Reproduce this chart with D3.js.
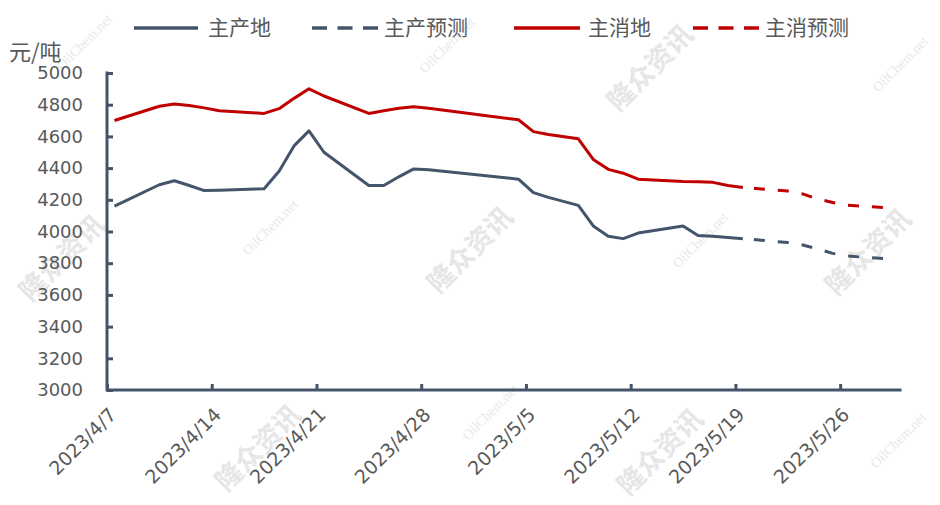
<!DOCTYPE html>
<html><head><meta charset="utf-8">
<script src="https://cdn.jsdelivr.net/npm/d3@7"></script>
<style>
body{margin:0;background:#fff;}
svg{display:block;font-family:"DejaVu Sans",sans-serif;}
</style></head>
<body><svg id="c" width="940" height="505"></svg>
<script>
// ---- data ----
const actualDates = ["2023-04-07","2023-04-10","2023-04-11","2023-04-12","2023-04-13","2023-04-14","2023-04-17","2023-04-18","2023-04-19","2023-04-20","2023-04-21","2023-04-24","2023-04-25","2023-04-26","2023-04-27","2023-04-28","2023-05-04","2023-05-05","2023-05-06","2023-05-08","2023-05-09","2023-05-10","2023-05-11","2023-05-12","2023-05-15","2023-05-16","2023-05-17","2023-05-18","2023-05-19"];
const producerValues = [4160,4295,4320,4290,4258,4260,4270,4380,4540,4635,4500,4290,4290,4345,4395,4390,4330,4245,4215,4165,4035,3970,3955,3990,4035,3975,3970,3962,3955];
const consumerValues = [4700,4790,4805,4795,4780,4762,4745,4775,4840,4900,4855,4745,4762,4777,4787,4778,4705,4630,4612,4585,4455,4392,4368,4330,4315,4314,4310,4290,4278];
const forecastDates = ["2023-05-19","2023-05-22","2023-05-23","2023-05-24","2023-05-25","2023-05-26","2023-05-29"];
const producerForecast = [3955,3930,3915,3890,3862,3845,3825];
const consumerForecast = [4278,4255,4237,4205,4183,4165,4148];
const tickDates = ["2023-04-07","2023-04-14","2023-04-21","2023-04-28","2023-05-05","2023-05-12","2023-05-19","2023-05-26"];
const tickLabels = ["2023/4/7","2023/4/14","2023/4/21","2023/4/28","2023/5/5","2023/5/12","2023/5/19","2023/5/26"];
const yTicks = [3000,3200,3400,3600,3800,4000,4200,4400,4600,4800,5000];
const seriesNames = ["主产地","主产预测","主消地","主消预测"];
const unitLabel = "元/吨";

// ---- layout ----
const NAVY = "#44546A", RED = "#C00000", TXT = "#595959";
const svg = d3.select("#c");
const parse = d3.utcParse("%Y-%m-%d");
const x = d3.scaleUtc().domain([parse("2023-04-07"), parse("2023-05-30")]).range([107, 900]);
const y = d3.scaleLinear().domain([3000, 5000]).range([390, 73]);
const px = s => x(d3.utcHour.offset(parse(s), 12));

// watermarks
const wm = svg.append("g");
[[650,68],[470,250],[258,448],[62,258],[868,252],[660,452]].forEach(([cx,cy])=>{
  wm.append("text").attr("transform",`translate(${cx},${cy}) rotate(-45)`)
    .attr("text-anchor","middle").attr("dy","0.35em")
    .style("font-family","'Noto Sans CJK SC',sans-serif").style("font-weight","bold")
    .style("font-size","27px").style("fill","#e6e6e6").text("隆众资讯");
});
[[84,42],[447,45],[900,64],[270,227],[700,240],[490,412],[898,440]].forEach(([cx,cy])=>{
  wm.append("text").attr("transform",`translate(${cx},${cy}) rotate(-45)`)
    .attr("text-anchor","middle").attr("dy","0.35em")
    .style("font-family","'Liberation Serif',serif")
    .style("font-size","14px").style("fill","#e8e8e8").text("OilChem.net");
});

// axes
const yAxis = d3.axisLeft(y).tickValues(yTicks).tickFormat(d3.format("d"))
  .tickSizeInner(-6).tickSizeOuter(0).tickPadding(24);
const gy = svg.append("g").attr("transform","translate(107,0)").call(yAxis);
gy.select(".domain").remove();
gy.selectAll("line").attr("stroke",NAVY).attr("stroke-width",3);
gy.selectAll("text").style("font-size","18px").style("fill",TXT).style("font-family","'DejaVu Sans',sans-serif");

const xAxis = d3.axisBottom(x).tickValues(tickDates.map(parse)).tickSizeInner(-6).tickSizeOuter(0)
  .tickFormat((d,i)=>tickLabels[i]);
const gx = svg.append("g").attr("transform","translate(0,390)").call(xAxis);
gx.select(".domain").remove();
gx.selectAll("line").attr("stroke",NAVY).attr("stroke-width",3);
gx.selectAll("text").attr("y",0).attr("dy",0)
  .attr("transform","translate(10,26) rotate(-45)")
  .style("text-anchor","end").style("font-size","19px").style("fill",TXT)
  .style("font-family","'DejaVu Sans',sans-serif");

svg.append("path").attr("d",`M${x.range()[0]},${y(5000)}V${y(3000)}H${x.range()[1]}`)
  .attr("fill","none").attr("stroke",NAVY).attr("stroke-width",3).attr("stroke-linecap","square");

// lines
const line = d3.line().x(d=>px(d[0])).y(d=>y(d[1]));
function draw(dates, vals, color, dashed){
  const p = svg.append("path").datum(dates.map((d,i)=>[d,vals[i]]))
    .attr("d",line).attr("fill","none").attr("stroke",color).attr("stroke-width",3)
    .attr("stroke-linejoin","round");
  if(dashed) p.attr("stroke-dasharray","11,13").attr("stroke-dashoffset",13);
}
draw(actualDates, producerValues, NAVY, false);
draw(actualDates, consumerValues, RED, false);
draw(forecastDates, producerForecast, NAVY, true);
draw(forecastDates, consumerForecast, RED, true);

// unit label
svg.append("text").attr("x",9).attr("y",52).attr("dy","0.35em")
  .style("font-family","'Noto Sans CJK SC',sans-serif").style("font-size","22px").style("fill",TXT).text(unitLabel);

// legend
const legend = [
  {name:seriesNames[0], color:NAVY, dash:null, x1:134, x2:198, tx:208},
  {name:seriesNames[1], color:NAVY, dash:"15,10.5", x1:312, x2:378, tx:384},
  {name:seriesNames[2], color:RED, dash:null, x1:514, x2:580, tx:588},
  {name:seriesNames[3], color:RED, dash:"15,10.5", x1:693, x2:759, tx:765}
];
const lg = svg.append("g");
legend.forEach(l=>{
  const ln = lg.append("line").attr("x1",l.x1).attr("x2",l.x2).attr("y1",28).attr("y2",28)
    .attr("stroke",l.color).attr("stroke-width",3.5);
  if(l.dash) ln.attr("stroke-dasharray",l.dash);
  lg.append("text").attr("x",l.tx).attr("y",28).attr("dy","0.35em")
    .style("font-family","'Noto Sans CJK SC',sans-serif").style("font-size","21px")
    .style("fill",TXT).text(l.name);
});
</script></body></html>
